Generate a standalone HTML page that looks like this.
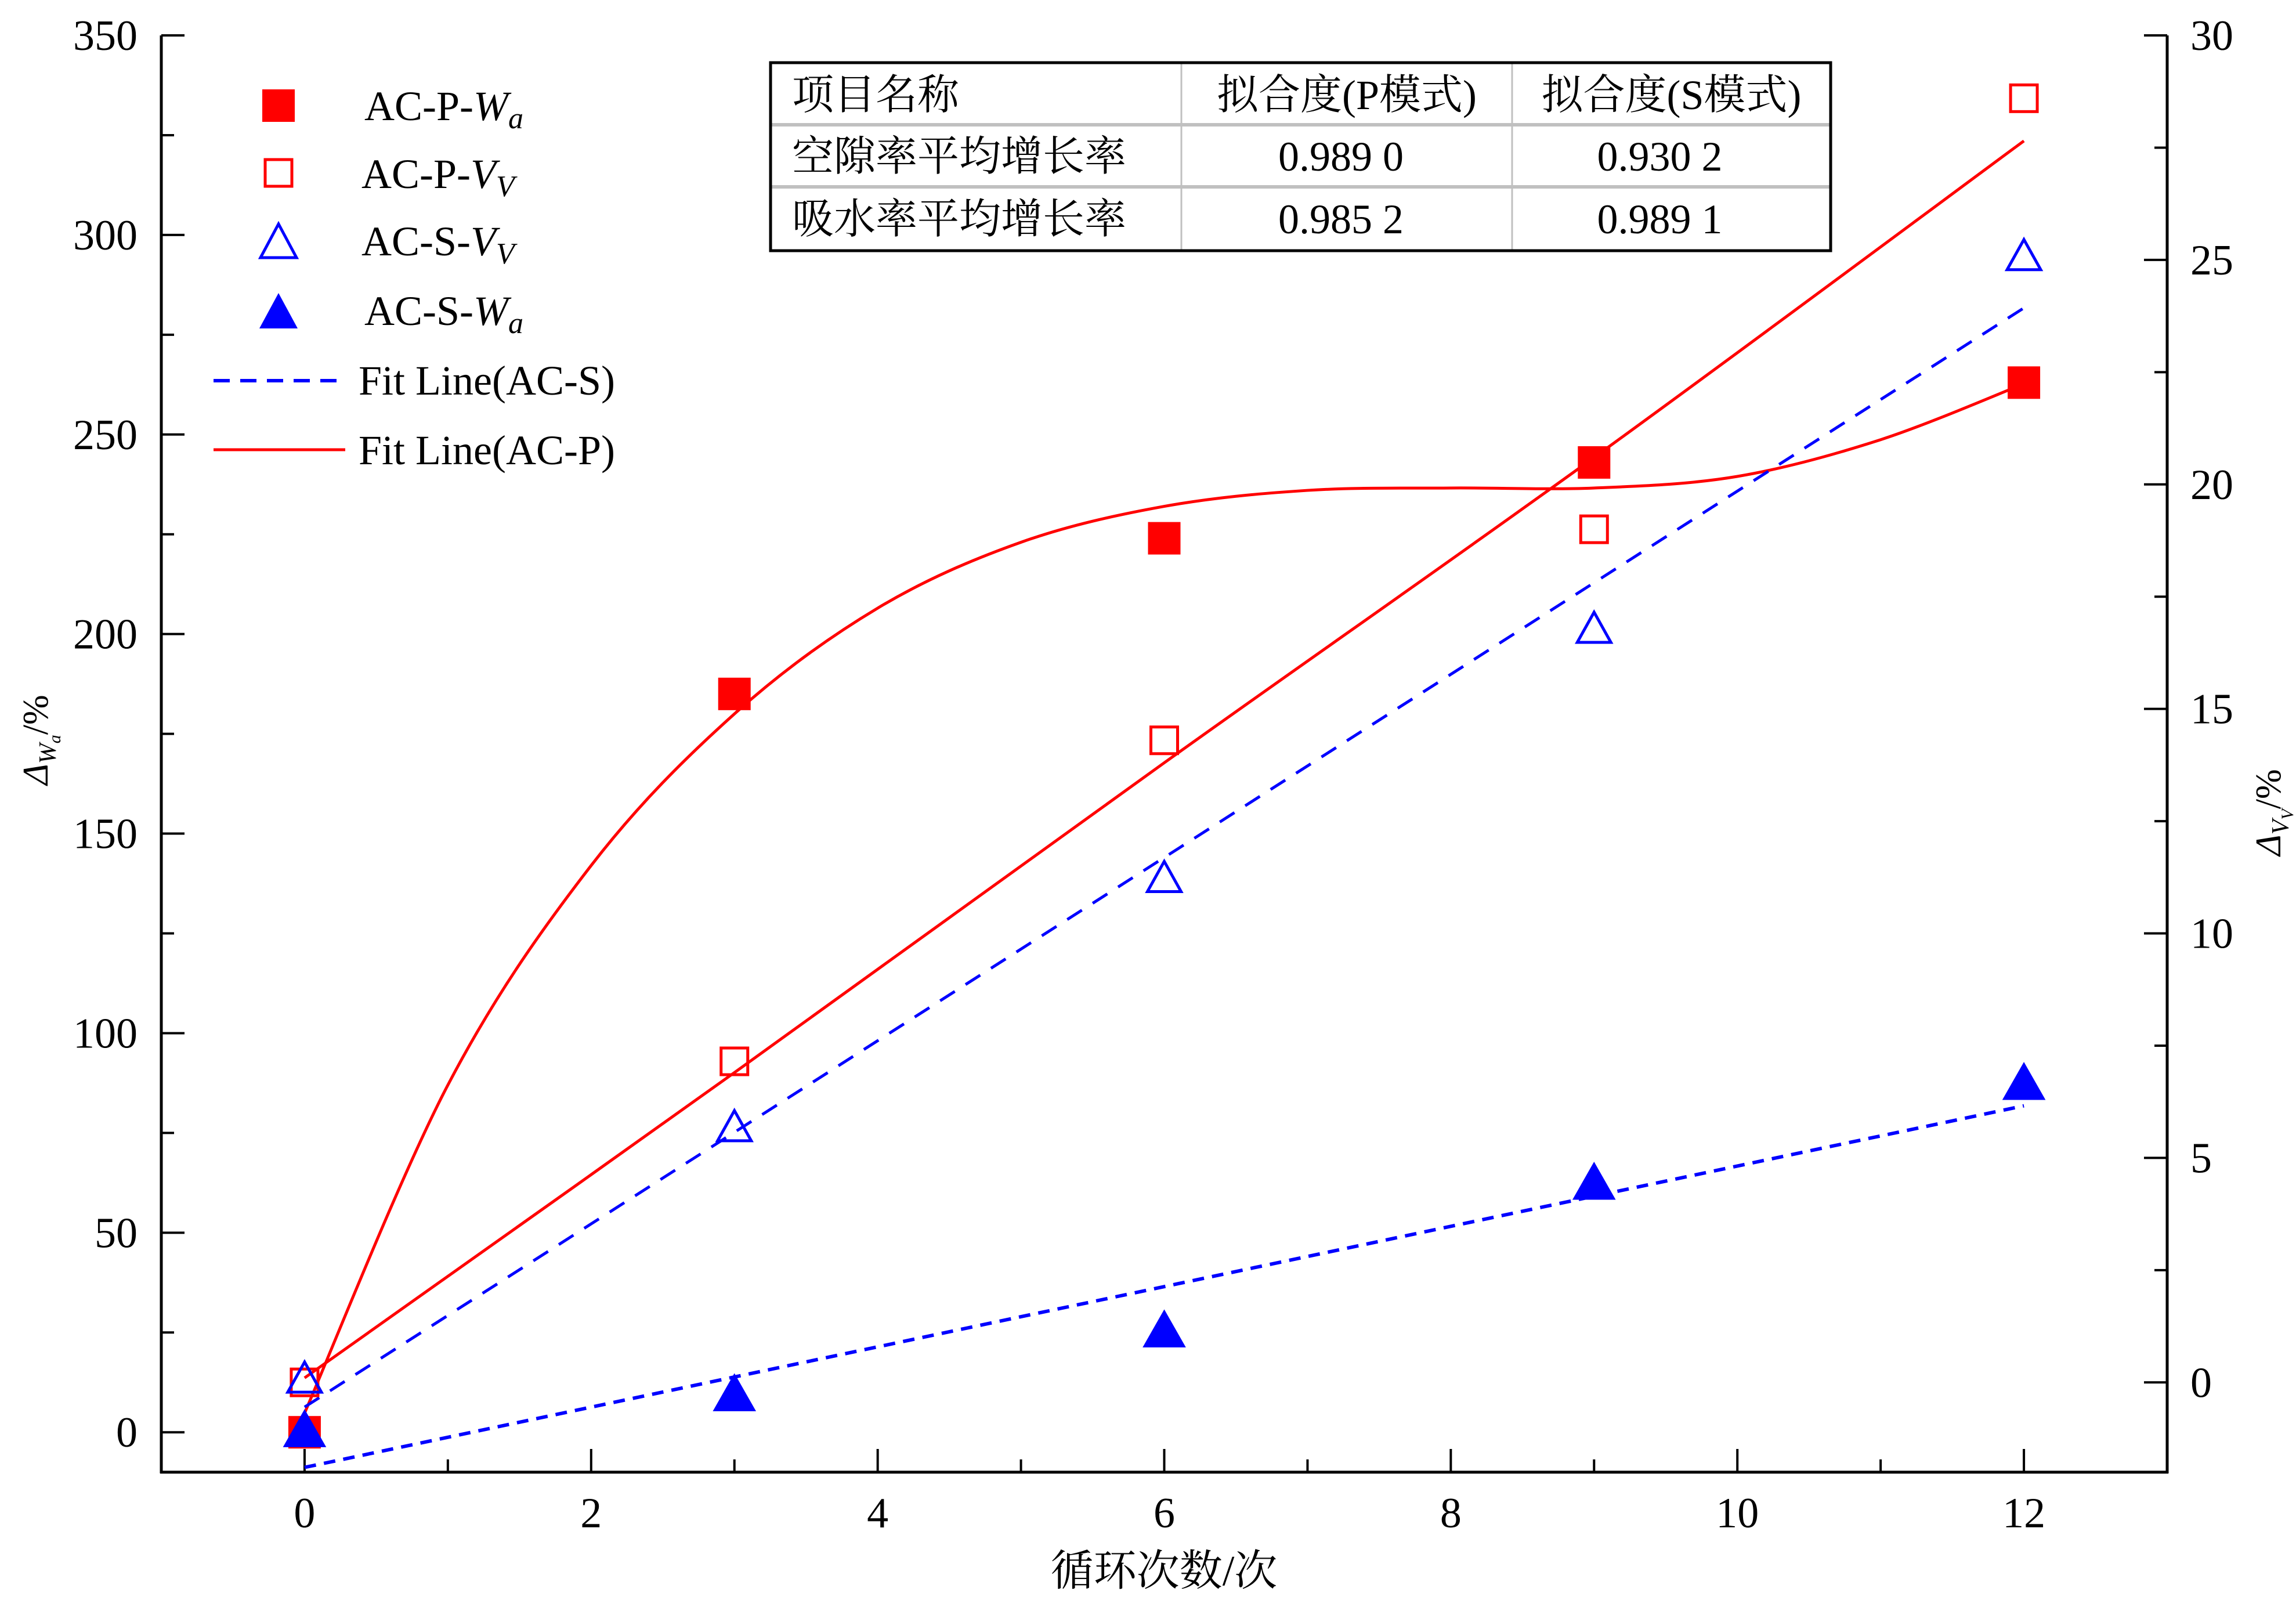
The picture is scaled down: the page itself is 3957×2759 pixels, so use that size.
<!DOCTYPE html>
<html><head><meta charset="utf-8">
<style>
html,body{margin:0;padding:0;background:#fff;}
svg{display:block;}
text{font-family:"Liberation Serif","Noto Serif CJK SC","Noto Sans CJK SC",serif;fill:#000;}
</style></head>
<body>
<svg id="chart" width="3957" height="2759" viewBox="0 0 3957 2759" xmlns="http://www.w3.org/2000/svg"></svg>
<script>
// ---- data ----
const cycles = [0, 3, 6, 9, 12];
const acPWa = [0, 185, 224, 243, 263];
const acSWa = [0, 9, 25, 62, 87];
const acPVv = [0.0, 7.15, 14.3, 19.0, 28.6];
const acSVv = [0.05, 5.65, 11.2, 16.75, 25.05];
const fitPWaX = [0,1,2,3,4,5,6,7,8,9,10,11,12];
const fitPWaY = [4.8,87,142,180,206.5,223,232,236,236.6,236.6,239.5,248.7,262.7];
const fitPVvX = [0, 3, 6, 9, 12];
const fitPVvY = [0.1, 6.9, 13.8, 20.6, 27.65];
const fitSVvX = [0, 12];
const fitSVvY = [-0.55, 23.93];
const fitSWaX = [0, 12];
const fitSWaY = [-8.8, 81.8];
const xTicks = [0,2,4,6,8,10,12];
const yLeftTicks = [0,50,100,150,200,250,300,350];
const yRightTicks = [0,5,10,15,20,25,30];

// ---- axes geometry ----
const X0=278, X1=3735, YT=61, YB=2537;
const xMin=-1, xMax=13, yLMin=-10, yLMax=350, yRMin=-2, yRMax=30;
const sx = v => X0 + (v-xMin)/(xMax-xMin)*(X1-X0);
const syL = v => YB - (v-yLMin)/(yLMax-yLMin)*(YB-YT);
const syR = v => YB - (v-yRMin)/(yRMax-yRMin)*(YB-YT);

const svg = document.getElementById('chart');
const NS='http://www.w3.org/2000/svg';
function mk(tag, attrs, parent){
  const e=document.createElementNS(NS,tag);
  for(const k in attrs) e.setAttribute(k, attrs[k]);
  (parent||svg).appendChild(e);
  return e;
}
function txt(s, x, y, size, anchor, parent){
  const t=mk('text',{x:x,y:y,'font-size':size,'text-anchor':anchor||'start'},parent);
  t.textContent=s; return t;
}

// axes
const axes=mk('g',{});


let l=mk('line',{x1:X0,y1:YT,x2:X0,y2:YB+2,stroke:'#000','stroke-width':5},axes);


l=mk('line',{x1:X1,y1:YT,x2:X1,y2:YB+2,stroke:'#000','stroke-width':5},axes);


l=mk('line',{x1:X0-2,y1:YB,x2:X1+2,y2:YB,stroke:'#000','stroke-width':5},axes);



// x ticks
for(let v=0; v<=12; v++){
  const major = xTicks.includes(v);
  mk('line',{x1:sx(v),y1:YB,x2:sx(v),y2:YB-(major?40:22),stroke:'#000','stroke-width':4},axes);
}
xTicks.forEach(v=>{
  const t=txt(String(v), sx(v), 2632, 74, 'middle');
  
  
});
// left ticks
for(let v=0; v<=350; v+=25){
  const major = v%50===0;
  mk('line',{x1:X0,y1:syL(v),x2:X0+(major?40:22),y2:syL(v),stroke:'#000','stroke-width':4},axes);
}
yLeftTicks.forEach(v=>{
  const t=txt(String(v), 237, syL(v)+25, 74, 'end');
  
  
});
// right ticks
for(let v=0; v<=30; v+=2.5){
  const major = v%5===0;
  mk('line',{x1:X1,y1:syR(v),x2:X1-(major?40:22),y2:syR(v),stroke:'#000','stroke-width':4},axes);
}
yRightTicks.forEach(v=>{
  const t=txt(String(v), 3775, syR(v)+25, 74, 'start');
  
  
});

// axis titles
let xt=txt('循环次数/次', 2006, 2732, 74, 'middle');


let yl=mk('text',{transform:'translate(82,1275) rotate(-90)','font-size':62,'text-anchor':'middle'});
yl.innerHTML='<tspan font-style="italic">Δ</tspan><tspan font-style="italic" font-size="42" dy="14">W</tspan><tspan font-style="italic" font-size="30" dy="8">a</tspan><tspan dy="-22">/%</tspan>';


let yr=mk('text',{transform:'translate(3930,1400) rotate(-90)','font-size':62,'text-anchor':'middle'});
yr.innerHTML='<tspan font-style="italic">Δ</tspan><tspan font-style="italic" font-size="42" dy="14">V</tspan><tspan font-style="italic" font-size="30" dy="8">V</tspan><tspan dy="-22">/%</tspan>';



// smooth path helper (catmull-rom)
function smoothPath(pts){
  let d='M'+pts[0][0]+','+pts[0][1];
  for(let i=0;i<pts.length-1;i++){
    const p0=pts[i-1]||pts[i], p1=pts[i], p2=pts[i+1], p3=pts[i+2]||p2;
    const c1=[p1[0]+(p2[0]-p0[0])/6, p1[1]+(p2[1]-p0[1])/6];
    const c2=[p2[0]-(p3[0]-p1[0])/6, p2[1]-(p3[1]-p1[1])/6];
    d+=' C'+c1[0]+','+c1[1]+' '+c2[0]+','+c2[1]+' '+p2[0]+','+p2[1];
  }
  return d;
}
// fit lines
let f=mk('path',{d:smoothPath(fitPWaX.map((x,i)=>[sx(x),syL(fitPWaY[i])])),fill:'none',stroke:'#f00','stroke-width':5});


f=mk('path',{d:smoothPath(fitPVvX.map((x,i)=>[sx(x),syR(fitPVvY[i])])),fill:'none',stroke:'#f00','stroke-width':5});


f=mk('path',{d:'M'+fitSVvX.map((x,i)=>sx(x)+','+syR(fitSVvY[i])).join(' L'),fill:'none',stroke:'#00f','stroke-width':5,'stroke-dasharray':'30,22'});


f=mk('path',{d:'M'+fitSWaX.map((x,i)=>sx(x)+','+syL(fitSWaY[i])).join(' L'),fill:'none',stroke:'#00f','stroke-width':6,'stroke-dasharray':'20,14'});



// markers
function square(x,y,filled){
  const s=filled?56:46;
  return mk('rect',{x:x-s/2,y:y-s/2,width:s,height:s,fill:filled?'#f00':'none',stroke:'#f00','stroke-width':filled?0:5});
}
function tri(x,y,filled){
  const w=filled?66:58, h=filled?58:52;
  return mk('polygon',{points:(x)+','+(y-h*0.6)+' '+(x-w/2)+','+(y+h*0.4)+' '+(x+w/2)+','+(y+h*0.4),fill:filled?'#00f':'none',stroke:'#00f','stroke-width':5,'stroke-linejoin':'miter'});
}
cycles.forEach((c,i)=>{
  let m=square(sx(c),syR(acPVv[i]),false);
  
  
});
cycles.forEach((c,i)=>{
  let m=tri(sx(c),syR(acSVv[i]),false);
  
  
});
cycles.forEach((c,i)=>{
  let m=square(sx(c),syL(acPWa[i]),true);
  
  
});
cycles.forEach((c,i)=>{
  let m=tri(sx(c),syL(acSWa[i]),true);
  
  
});

// legend
const lg=mk('g',{});


function legText(html,x,y){
  const t=mk('text',{x:x,y:y,'font-size':72},lg);
  t.innerHTML=html; return t;
}
let e;
e=mk('rect',{x:452,y:154,width:56,height:56,fill:'#f00'},lg);
legText('AC-P-<tspan font-style="italic">W</tspan><tspan font-style="italic" font-size="52" dy="14">a</tspan>',628,207);
e=mk('rect',{x:457,y:275,width:46,height:46,fill:'none',stroke:'#f00','stroke-width':5},lg);
legText('AC-P-<tspan font-style="italic">V</tspan><tspan font-style="italic" font-size="52" dy="14">V</tspan>',623,324);
e=mk('polygon',{points:'480,386 449,444 511,444',fill:'none',stroke:'#00f','stroke-width':5},lg);
legText('AC-S-<tspan font-style="italic">V</tspan><tspan font-style="italic" font-size="52" dy="14">V</tspan>',623,440);
e=mk('polygon',{points:'480,505 447,566 513,566',fill:'#00f'},lg);
legText('AC-S-<tspan font-style="italic">W</tspan><tspan font-style="italic" font-size="52" dy="14">a</tspan>',628,560);
mk('line',{x1:368,y1:656,x2:595,y2:656,stroke:'#00f','stroke-width':6,'stroke-dasharray':'28,18'},lg);
legText('Fit Line(AC-S)',618,680);
mk('line',{x1:368,y1:775,x2:595,y2:775,stroke:'#f00','stroke-width':5},lg);
legText('Fit Line(AC-P)',618,800);

// table
const tb=mk('g',{});


const TX0=1328, TX1=3155, TY0=108, TY1=432, C1=2036, C2=2606, R1=215, R2=322;
mk('line',{x1:TX0,y1:R1,x2:TX1,y2:R1,stroke:'#c0c0c0','stroke-width':6},tb);
mk('line',{x1:TX0,y1:R2,x2:TX1,y2:R2,stroke:'#c0c0c0','stroke-width':6},tb);
mk('line',{x1:C1,y1:TY0,x2:C1,y2:TY1,stroke:'#c0c0c0','stroke-width':3},tb);
mk('line',{x1:C2,y1:TY0,x2:C2,y2:TY1,stroke:'#c0c0c0','stroke-width':3},tb);
mk('rect',{x:TX0,y:TY0,width:TX1-TX0,height:TY1-TY0,fill:'none',stroke:'#000','stroke-width':5},tb);
const rows=[['项目名称','拟合度(P模式)','拟合度(S模式)'],['空隙率平均增长率','0.989 0','0.930 2'],['吸水率平均增长率','0.985 2','0.989 1']];
const rowY=[188,294,402];
rows.forEach((r,i)=>{
  txt(r[0],1365,rowY[i],72,'start',tb);
  txt(r[1],(C1+C2)/2+(i===0?0:-10),rowY[i],72,'middle',tb);
  txt(r[2],(C2+TX1)/2+(i===0?0:-20),rowY[i],72,'middle',tb);
});
</script>
</body></html>
